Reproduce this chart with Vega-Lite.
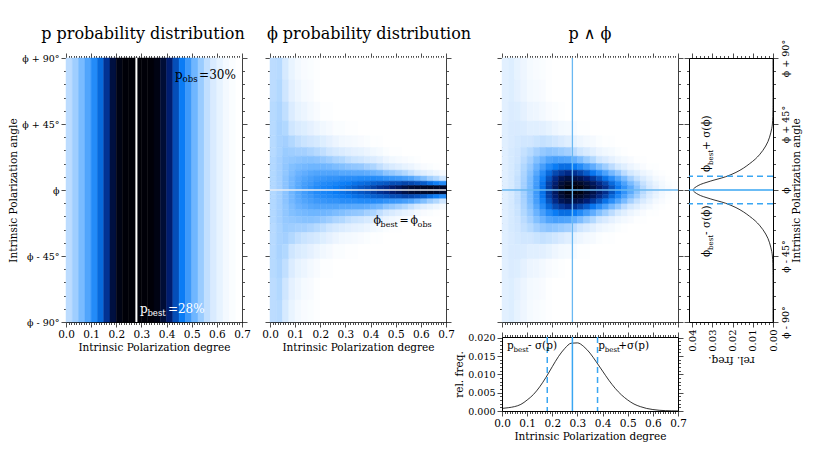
{
"$schema":"https://vega.github.io/schema/vega-lite/v6.json",
"padding":{"left":8,"top":25,"right":5,"bottom":5},
"background":"white",
"config":{
 "font":"DejaVu Serif",
 "view":{"stroke":null},
 "axis":{"labelFont":"DejaVu Serif","titleFont":"DejaVu Serif","labelFontSize":10.5,"titleFontSize":10.5,"titleFontWeight":"normal","labelColor":"black","titleColor":"black","domainColor":"black","domainWidth":1,"tickColor":"black","tickWidth":0.7,"grid":false,"labelOverlap":false,"labelFlush":false,"zindex":1,"labelPadding":2,"titlePadding":3},
 "title":{"font":"DejaVu Serif","fontSize":16,"fontWeight":"normal","color":"black","frame":"group","baseline":"alphabetic","offset":11},
 "text":{"font":"DejaVu Serif"}
},
"datasets":{
 "pd":[{"a":-90,"b":90,"c00":24,"c01":30,"c02":38,"c03":46,"c04":55,"c05":64,"c06":76,"c07":90,"c08":98,"c09":100,"c10":100,"c11":100,"c12":100,"c13":100,"c14":98,"c15":92,"c16":82,"c17":70,"c18":60,"c19":50,"c20":40,"c21":31,"c22":23,"c23":16,"c24":10,"c25":5,"c26":2,"c27":0}],
 "ph":[
  {"a":75,"b":90,"c00":24,"c01":25,"c02":17,"c03":9,"c04":5,"c05":3,"c06":2,"c07":1,"c08":0,"c09":0,"c10":0,"c11":0,"c12":0,"c13":0,"c14":0,"c15":0,"c16":0,"c17":0,"c18":0,"c19":0,"c20":0,"c21":0,"c22":0,"c23":0,"c24":0,"c25":0,"c26":0,"c27":0},
  {"a":60,"b":75,"c00":24,"c01":26,"c02":20,"c03":11,"c04":7,"c05":4,"c06":3,"c07":1,"c08":0,"c09":0,"c10":0,"c11":0,"c12":0,"c13":0,"c14":0,"c15":0,"c16":0,"c17":0,"c18":0,"c19":0,"c20":0,"c21":0,"c22":0,"c23":0,"c24":0,"c25":0,"c26":0,"c27":0},
  {"a":47,"b":60,"c00":25,"c01":27,"c02":23,"c03":15,"c04":10,"c05":8,"c06":5,"c07":3,"c08":1,"c09":1,"c10":0,"c11":0,"c12":0,"c13":0,"c14":0,"c15":0,"c16":0,"c17":0,"c18":0,"c19":0,"c20":0,"c21":0,"c22":0,"c23":0,"c24":0,"c25":0,"c26":0,"c27":0},
  {"a":37,"b":47,"c00":25,"c01":28,"c02":26,"c03":20,"c04":16,"c05":14,"c06":11,"c07":8,"c08":6,"c09":4,"c10":2,"c11":2,"c12":1,"c13":1,"c14":0,"c15":0,"c16":0,"c17":0,"c18":0,"c19":0,"c20":0,"c21":0,"c22":0,"c23":0,"c24":0,"c25":0,"c26":0,"c27":0},
  {"a":29,"b":37,"c00":25,"c01":28,"c02":29,"c03":26,"c04":23,"c05":21,"c06":19,"c07":17,"c08":14,"c09":11,"c10":8,"c11":6,"c12":5,"c13":4,"c14":3,"c15":2,"c16":1,"c17":1,"c18":0,"c19":0,"c20":0,"c21":0,"c22":0,"c23":0,"c24":0,"c25":0,"c26":0,"c27":0},
  {"a":23,"b":29,"c00":25,"c01":28,"c02":31,"c03":30,"c04":29,"c05":29,"c06":27,"c07":25,"c08":23,"c09":20,"c10":17,"c11":15,"c12":13,"c13":11,"c14":10,"c15":8,"c16":6,"c17":4,"c18":2,"c19":1,"c20":1,"c21":0,"c22":0,"c23":0,"c24":0,"c25":0,"c26":0,"c27":0},
  {"a":18,"b":23,"c00":26,"c01":29,"c02":32,"c03":33,"c04":34,"c05":35,"c06":35,"c07":34,"c08":32,"c09":30,"c10":27,"c11":26,"c12":23,"c13":21,"c14":20,"c15":17,"c16":15,"c17":12,"c18":8,"c19":6,"c20":4,"c21":3,"c22":2,"c23":1,"c24":0,"c25":0,"c26":0,"c27":0},
  {"a":13.5,"b":18,"c00":26,"c01":29,"c02":33,"c03":36,"c04":38,"c05":39,"c06":40,"c07":40,"c08":40,"c09":39,"c10":37,"c11":36,"c12":34,"c13":33,"c14":32,"c15":29,"c16":27,"c17":23,"c18":19,"c19":16,"c20":13,"c21":10,"c22":8,"c23":5,"c24":3,"c25":2,"c26":1,"c27":0},
  {"a":9.5,"b":13.5,"c00":26,"c01":29,"c02":33,"c03":37,"c04":41,"c05":43,"c06":45,"c07":46,"c08":46,"c09":46,"c10":46,"c11":45,"c12":45,"c13":44,"c14":44,"c15":43,"c16":41,"c17":39,"c18":34,"c19":32,"c20":29,"c21":26,"c22":22,"c23":17,"c24":13,"c25":10,"c26":7,"c27":4},
  {"a":6,"b":9.5,"c00":26,"c01":29,"c02":34,"c03":39,"c04":43,"c05":46,"c06":48,"c07":50,"c08":51,"c09":52,"c10":52,"c11":54,"c12":54,"c13":54,"c14":55,"c15":55,"c16":55,"c17":54,"c18":52,"c19":51,"c20":50,"c21":48,"c22":46,"c23":41,"c24":36,"c25":30,"c26":26,"c27":20},
  {"a":3,"b":6,"c00":26,"c01":29,"c02":34,"c03":39,"c04":44,"c05":48,"c06":50,"c07":53,"c08":55,"c09":56,"c10":57,"c11":59,"c12":60,"c13":62,"c14":63,"c15":64,"c16":66,"c17":67,"c18":68,"c19":70,"c20":70,"c21":72,"c22":71,"c23":69,"c24":67,"c25":63,"c26":59,"c27":55},
  {"a":0,"b":3,"c00":26,"c01":29,"c02":34,"c03":40,"c04":45,"c05":49,"c06":52,"c07":55,"c08":57,"c09":58,"c10":60,"c11":62,"c12":64,"c13":66,"c14":68,"c15":70,"c16":73,"c17":76,"c18":78,"c19":82,"c20":85,"c21":89,"c22":92,"c23":93,"c24":94,"c25":95,"c26":94,"c27":93},
  {"a":-3,"b":0,"c00":26,"c01":29,"c02":34,"c03":40,"c04":45,"c05":49,"c06":52,"c07":55,"c08":57,"c09":58,"c10":60,"c11":62,"c12":64,"c13":66,"c14":68,"c15":70,"c16":73,"c17":76,"c18":78,"c19":82,"c20":85,"c21":89,"c22":92,"c23":93,"c24":94,"c25":95,"c26":94,"c27":93},
  {"a":-6,"b":-3,"c00":26,"c01":29,"c02":34,"c03":39,"c04":44,"c05":48,"c06":50,"c07":53,"c08":55,"c09":56,"c10":57,"c11":59,"c12":60,"c13":62,"c14":63,"c15":64,"c16":66,"c17":67,"c18":68,"c19":70,"c20":70,"c21":72,"c22":71,"c23":69,"c24":67,"c25":63,"c26":59,"c27":55},
  {"a":-9.5,"b":-6,"c00":26,"c01":29,"c02":34,"c03":39,"c04":43,"c05":46,"c06":48,"c07":50,"c08":51,"c09":52,"c10":52,"c11":54,"c12":54,"c13":54,"c14":55,"c15":55,"c16":55,"c17":54,"c18":52,"c19":51,"c20":50,"c21":48,"c22":46,"c23":41,"c24":36,"c25":30,"c26":26,"c27":20},
  {"a":-13.5,"b":-9.5,"c00":26,"c01":29,"c02":33,"c03":37,"c04":41,"c05":43,"c06":45,"c07":46,"c08":46,"c09":46,"c10":46,"c11":45,"c12":45,"c13":44,"c14":44,"c15":43,"c16":41,"c17":39,"c18":34,"c19":32,"c20":29,"c21":26,"c22":22,"c23":17,"c24":13,"c25":10,"c26":7,"c27":4},
  {"a":-18,"b":-13.5,"c00":26,"c01":29,"c02":33,"c03":36,"c04":38,"c05":39,"c06":40,"c07":40,"c08":40,"c09":39,"c10":37,"c11":36,"c12":34,"c13":33,"c14":32,"c15":29,"c16":27,"c17":23,"c18":19,"c19":16,"c20":13,"c21":10,"c22":8,"c23":5,"c24":3,"c25":2,"c26":1,"c27":0},
  {"a":-23,"b":-18,"c00":26,"c01":29,"c02":32,"c03":33,"c04":34,"c05":35,"c06":35,"c07":34,"c08":32,"c09":30,"c10":27,"c11":26,"c12":23,"c13":21,"c14":20,"c15":17,"c16":15,"c17":12,"c18":8,"c19":6,"c20":4,"c21":3,"c22":2,"c23":1,"c24":0,"c25":0,"c26":0,"c27":0},
  {"a":-29,"b":-23,"c00":25,"c01":28,"c02":31,"c03":30,"c04":29,"c05":29,"c06":27,"c07":25,"c08":23,"c09":20,"c10":17,"c11":15,"c12":13,"c13":11,"c14":10,"c15":8,"c16":6,"c17":4,"c18":2,"c19":1,"c20":1,"c21":0,"c22":0,"c23":0,"c24":0,"c25":0,"c26":0,"c27":0},
  {"a":-37,"b":-29,"c00":25,"c01":28,"c02":29,"c03":26,"c04":23,"c05":21,"c06":19,"c07":17,"c08":14,"c09":11,"c10":8,"c11":6,"c12":5,"c13":4,"c14":3,"c15":2,"c16":1,"c17":1,"c18":0,"c19":0,"c20":0,"c21":0,"c22":0,"c23":0,"c24":0,"c25":0,"c26":0,"c27":0},
  {"a":-47,"b":-37,"c00":25,"c01":28,"c02":26,"c03":20,"c04":16,"c05":14,"c06":11,"c07":8,"c08":6,"c09":4,"c10":2,"c11":2,"c12":1,"c13":1,"c14":0,"c15":0,"c16":0,"c17":0,"c18":0,"c19":0,"c20":0,"c21":0,"c22":0,"c23":0,"c24":0,"c25":0,"c26":0,"c27":0},
  {"a":-60,"b":-47,"c00":25,"c01":27,"c02":23,"c03":15,"c04":10,"c05":8,"c06":5,"c07":3,"c08":1,"c09":1,"c10":0,"c11":0,"c12":0,"c13":0,"c14":0,"c15":0,"c16":0,"c17":0,"c18":0,"c19":0,"c20":0,"c21":0,"c22":0,"c23":0,"c24":0,"c25":0,"c26":0,"c27":0},
  {"a":-75,"b":-60,"c00":24,"c01":26,"c02":20,"c03":11,"c04":7,"c05":4,"c06":3,"c07":1,"c08":0,"c09":0,"c10":0,"c11":0,"c12":0,"c13":0,"c14":0,"c15":0,"c16":0,"c17":0,"c18":0,"c19":0,"c20":0,"c21":0,"c22":0,"c23":0,"c24":0,"c25":0,"c26":0,"c27":0},
  {"a":-90,"b":-75,"c00":24,"c01":25,"c02":17,"c03":9,"c04":5,"c05":3,"c06":2,"c07":1,"c08":0,"c09":0,"c10":0,"c11":0,"c12":0,"c13":0,"c14":0,"c15":0,"c16":0,"c17":0,"c18":0,"c19":0,"c20":0,"c21":0,"c22":0,"c23":0,"c24":0,"c25":0,"c26":0,"c27":0}
 ],
 "jt":[
  {"a":75,"b":90,"c00":12,"c01":14,"c02":10,"c03":7,"c04":4,"c05":3,"c06":2,"c07":1,"c08":0,"c09":0,"c10":0,"c11":0,"c12":0,"c13":0,"c14":0,"c15":0,"c16":0,"c17":0,"c18":0,"c19":0,"c20":0,"c21":0,"c22":0,"c23":0,"c24":0,"c25":0,"c26":0,"c27":0},
  {"a":60,"b":75,"c00":12,"c01":14,"c02":11,"c03":8,"c04":5,"c05":4,"c06":3,"c07":1,"c08":0,"c09":0,"c10":0,"c11":0,"c12":0,"c13":0,"c14":0,"c15":0,"c16":0,"c17":0,"c18":0,"c19":0,"c20":0,"c21":0,"c22":0,"c23":0,"c24":0,"c25":0,"c26":0,"c27":0},
  {"a":47,"b":60,"c00":12,"c01":15,"c02":14,"c03":11,"c04":8,"c05":7,"c06":5,"c07":3,"c08":2,"c09":1,"c10":0,"c11":0,"c12":0,"c13":0,"c14":0,"c15":0,"c16":0,"c17":0,"c18":0,"c19":0,"c20":0,"c21":0,"c22":0,"c23":0,"c24":0,"c25":0,"c26":0,"c27":0},
  {"a":37,"b":47,"c00":13,"c01":16,"c02":16,"c03":15,"c04":13,"c05":13,"c06":12,"c07":10,"c08":7,"c09":5,"c10":4,"c11":3,"c12":1,"c13":1,"c14":0,"c15":0,"c16":0,"c17":0,"c18":0,"c19":0,"c20":0,"c21":0,"c22":0,"c23":0,"c24":0,"c25":0,"c26":0,"c27":0},
  {"a":29,"b":37,"c00":13,"c01":16,"c02":18,"c03":19,"c04":19,"c05":21,"c06":22,"c07":21,"c08":19,"c09":16,"c10":13,"c11":10,"c12":7,"c13":5,"c14":4,"c15":2,"c16":1,"c17":1,"c18":0,"c19":0,"c20":0,"c21":0,"c22":0,"c23":0,"c24":0,"c25":0,"c26":0,"c27":0},
  {"a":23,"b":29,"c00":13,"c01":17,"c02":19,"c03":22,"c04":25,"c05":29,"c06":32,"c07":34,"c08":33,"c09":31,"c10":29,"c11":24,"c12":20,"c13":16,"c14":12,"c15":8,"c16":6,"c17":4,"c18":2,"c19":1,"c20":0,"c21":0,"c22":0,"c23":0,"c24":0,"c25":0,"c26":0,"c27":0},
  {"a":18,"b":23,"c00":13,"c01":17,"c02":20,"c03":24,"c04":29,"c05":36,"c06":41,"c07":46,"c08":48,"c09":47,"c10":46,"c11":42,"c12":37,"c13":31,"c14":26,"c15":20,"c16":16,"c17":11,"c18":7,"c19":5,"c20":3,"c21":1,"c22":1,"c23":0,"c24":0,"c25":0,"c26":0,"c27":0},
  {"a":13.5,"b":18,"c00":13,"c01":17,"c02":21,"c03":26,"c04":32,"c05":41,"c06":48,"c07":55,"c08":60,"c09":63,"c10":63,"c11":60,"c12":55,"c13":49,"c14":43,"c15":36,"c16":30,"c17":24,"c18":18,"c19":13,"c20":8,"c21":5,"c22":3,"c23":1,"c24":1,"c25":0,"c26":0,"c27":0},
  {"a":9.5,"b":13.5,"c00":13,"c01":17,"c02":21,"c03":27,"c04":35,"c05":45,"c06":54,"c07":64,"c08":71,"c09":75,"c10":78,"c11":76,"c12":72,"c13":67,"c14":61,"c15":54,"c16":47,"c17":39,"c18":32,"c19":24,"c20":18,"c21":13,"c22":8,"c23":5,"c24":2,"c25":1,"c26":0,"c27":0},
  {"a":6,"b":9.5,"c00":13,"c01":17,"c02":22,"c03":28,"c04":37,"c05":48,"c06":58,"c07":69,"c08":78,"c09":86,"c10":89,"c11":88,"c12":86,"c13":81,"c14":75,"c15":69,"c16":62,"c17":54,"c18":46,"c19":38,"c20":29,"c21":22,"c22":16,"c23":10,"c24":5,"c25":3,"c26":1,"c27":0},
  {"a":3,"b":6,"c00":13,"c01":17,"c02":22,"c03":29,"c04":38,"c05":49,"c06":61,"c07":73,"c08":82,"c09":91,"c10":95,"c11":96,"c12":94,"c13":90,"c14":85,"c15":78,"c16":72,"c17":64,"c18":56,"c19":47,"c20":38,"c21":30,"c22":22,"c23":15,"c24":9,"c25":5,"c26":2,"c27":1},
  {"a":0,"b":3,"c00":13,"c01":17,"c02":22,"c03":29,"c04":38,"c05":50,"c06":62,"c07":74,"c08":85,"c09":94,"c10":99,"c11":100,"c12":99,"c13":94,"c14":89,"c15":83,"c16":77,"c17":69,"c18":61,"c19":52,"c20":44,"c21":34,"c22":25,"c23":18,"c24":11,"c25":6,"c26":3,"c27":1},
  {"a":-3,"b":0,"c00":13,"c01":17,"c02":22,"c03":29,"c04":38,"c05":50,"c06":62,"c07":74,"c08":85,"c09":94,"c10":99,"c11":100,"c12":99,"c13":94,"c14":89,"c15":83,"c16":77,"c17":69,"c18":61,"c19":52,"c20":44,"c21":34,"c22":25,"c23":18,"c24":11,"c25":6,"c26":3,"c27":1},
  {"a":-6,"b":-3,"c00":13,"c01":17,"c02":22,"c03":29,"c04":38,"c05":49,"c06":61,"c07":73,"c08":82,"c09":91,"c10":95,"c11":96,"c12":94,"c13":90,"c14":85,"c15":78,"c16":72,"c17":64,"c18":56,"c19":47,"c20":38,"c21":30,"c22":22,"c23":15,"c24":9,"c25":5,"c26":2,"c27":1},
  {"a":-9.5,"b":-6,"c00":13,"c01":17,"c02":22,"c03":28,"c04":37,"c05":48,"c06":58,"c07":69,"c08":78,"c09":86,"c10":89,"c11":88,"c12":86,"c13":81,"c14":75,"c15":69,"c16":62,"c17":54,"c18":46,"c19":38,"c20":29,"c21":22,"c22":16,"c23":10,"c24":5,"c25":3,"c26":1,"c27":0},
  {"a":-13.5,"b":-9.5,"c00":13,"c01":17,"c02":21,"c03":27,"c04":35,"c05":45,"c06":54,"c07":64,"c08":71,"c09":75,"c10":78,"c11":76,"c12":72,"c13":67,"c14":61,"c15":54,"c16":47,"c17":39,"c18":32,"c19":24,"c20":18,"c21":13,"c22":8,"c23":5,"c24":2,"c25":1,"c26":0,"c27":0},
  {"a":-18,"b":-13.5,"c00":13,"c01":17,"c02":21,"c03":26,"c04":32,"c05":41,"c06":48,"c07":55,"c08":60,"c09":63,"c10":63,"c11":60,"c12":55,"c13":49,"c14":43,"c15":36,"c16":30,"c17":24,"c18":18,"c19":13,"c20":8,"c21":5,"c22":3,"c23":1,"c24":1,"c25":0,"c26":0,"c27":0},
  {"a":-23,"b":-18,"c00":13,"c01":17,"c02":20,"c03":24,"c04":29,"c05":36,"c06":41,"c07":46,"c08":48,"c09":47,"c10":46,"c11":42,"c12":37,"c13":31,"c14":26,"c15":20,"c16":16,"c17":11,"c18":7,"c19":5,"c20":3,"c21":1,"c22":1,"c23":0,"c24":0,"c25":0,"c26":0,"c27":0},
  {"a":-29,"b":-23,"c00":13,"c01":17,"c02":19,"c03":22,"c04":25,"c05":29,"c06":32,"c07":34,"c08":33,"c09":31,"c10":29,"c11":24,"c12":20,"c13":16,"c14":12,"c15":8,"c16":6,"c17":4,"c18":2,"c19":1,"c20":0,"c21":0,"c22":0,"c23":0,"c24":0,"c25":0,"c26":0,"c27":0},
  {"a":-37,"b":-29,"c00":13,"c01":16,"c02":18,"c03":19,"c04":19,"c05":21,"c06":22,"c07":21,"c08":19,"c09":16,"c10":13,"c11":10,"c12":7,"c13":5,"c14":4,"c15":2,"c16":1,"c17":1,"c18":0,"c19":0,"c20":0,"c21":0,"c22":0,"c23":0,"c24":0,"c25":0,"c26":0,"c27":0},
  {"a":-47,"b":-37,"c00":13,"c01":16,"c02":16,"c03":15,"c04":13,"c05":13,"c06":12,"c07":10,"c08":7,"c09":5,"c10":4,"c11":3,"c12":1,"c13":1,"c14":0,"c15":0,"c16":0,"c17":0,"c18":0,"c19":0,"c20":0,"c21":0,"c22":0,"c23":0,"c24":0,"c25":0,"c26":0,"c27":0},
  {"a":-60,"b":-47,"c00":12,"c01":15,"c02":14,"c03":11,"c04":8,"c05":7,"c06":5,"c07":3,"c08":2,"c09":1,"c10":0,"c11":0,"c12":0,"c13":0,"c14":0,"c15":0,"c16":0,"c17":0,"c18":0,"c19":0,"c20":0,"c21":0,"c22":0,"c23":0,"c24":0,"c25":0,"c26":0,"c27":0},
  {"a":-75,"b":-60,"c00":12,"c01":14,"c02":11,"c03":8,"c04":5,"c05":4,"c06":3,"c07":1,"c08":0,"c09":0,"c10":0,"c11":0,"c12":0,"c13":0,"c14":0,"c15":0,"c16":0,"c17":0,"c18":0,"c19":0,"c20":0,"c21":0,"c22":0,"c23":0,"c24":0,"c25":0,"c26":0,"c27":0},
  {"a":-90,"b":-75,"c00":12,"c01":14,"c02":10,"c03":7,"c04":4,"c05":3,"c06":2,"c07":1,"c08":0,"c09":0,"c10":0,"c11":0,"c12":0,"c13":0,"c14":0,"c15":0,"c16":0,"c17":0,"c18":0,"c19":0,"c20":0,"c21":0,"c22":0,"c23":0,"c24":0,"c25":0,"c26":0,"c27":0}
 ],
 "pm":[{"p":0,"f":0.0007},{"p":0.025,"f":0.0009},{"p":0.05,"f":0.0012},{"p":0.075,"f":0.0018},{"p":0.1,"f":0.003},{"p":0.125,"f":0.0045},{"p":0.15,"f":0.0066},{"p":0.175,"f":0.0092},{"p":0.2,"f":0.0121},{"p":0.225,"f":0.0149},{"p":0.25,"f":0.0171},{"p":0.275,"f":0.0185},{"p":0.3,"f":0.0186},{"p":0.325,"f":0.0176},{"p":0.35,"f":0.0158},{"p":0.375,"f":0.0134},{"p":0.4,"f":0.0109},{"p":0.425,"f":0.0084},{"p":0.45,"f":0.0062},{"p":0.475,"f":0.0044},{"p":0.5,"f":0.003},{"p":0.525,"f":0.0019},{"p":0.55,"f":0.0012},{"p":0.575,"f":0.0007},{"p":0.6,"f":0.0004},{"p":0.625,"f":0.0002},{"p":0.65,"f":0.0001},{"p":0.675,"f":0.00005},{"p":0.7,"f":0.00002}],
 "am":[{"a":-90,"f":0},{"a":-75,"f":0},{"a":-60,"f":0},{"a":-55,"f":0.00003},{"a":-50,"f":0.0001},{"a":-45,"f":0.0003},{"a":-42,"f":0.0006},{"a":-39,"f":0.0011},{"a":-36,"f":0.0017},{"a":-33,"f":0.0025},{"a":-30,"f":0.0036},{"a":-27,"f":0.005},{"a":-24,"f":0.0067},{"a":-21,"f":0.0088},{"a":-18,"f":0.0115},{"a":-15,"f":0.0145},{"a":-12,"f":0.0183},{"a":-9,"f":0.0235},{"a":-6,"f":0.031},{"a":-3,"f":0.037},{"a":0,"f":0.0395},{"a":3,"f":0.037},{"a":6,"f":0.031},{"a":9,"f":0.0235},{"a":12,"f":0.0183},{"a":15,"f":0.0145},{"a":18,"f":0.0115},{"a":21,"f":0.0088},{"a":24,"f":0.0067},{"a":27,"f":0.005},{"a":30,"f":0.0036},{"a":33,"f":0.0025},{"a":36,"f":0.0017},{"a":39,"f":0.0011},{"a":42,"f":0.0006},{"a":45,"f":0.0003},{"a":50,"f":0.0001},{"a":55,"f":0.00003},{"a":60,"f":0},{"a":75,"f":0},{"a":90,"f":0}]
},
"concat":[
  {"width":176,"height":264,
   "title":{"text":"p probability distribution","dx":-11},
   "layer":[
    {"data":{"name":"pd"},"transform":[{"fold":["c00","c01","c02","c03","c04","c05","c06","c07","c08","c09","c10","c11","c12","c13","c14","c15","c16","c17","c18","c19","c20","c21","c22","c23","c24","c25","c26","c27"],"as":["col","val"]}],
     "mark":{"type":"rect","strokeWidth":0.5},
     "encoding":{
      "x":{"field":"col","type":"ordinal","axis":null,"scale":{"paddingInner":0,"paddingOuter":0}},
      "y":{"field":"a","type":"quantitative","scale":{"domain":[-90,90],"nice":false},"axis":{"orient":"left","values":[-90,-81,-72,-63,-54,-45,-36,-27,-18,-9,0,9,18,27,36,45,54,63,72,81,90],"labelExpr":"datum.value==90 ? 'ϕ + 90°' : datum.value==45 ? 'ϕ + 45°' : datum.value==0 ? 'ϕ' : datum.value==-45 ? 'ϕ - 45°' : datum.value==-90 ? 'ϕ - 90°' : ''","labelFontSize":9.5,"tickSize":{"condition":{"test":"datum.value%45==0","value":5},"value":2.5},"title":"Intrinsic Polarization angle"}},
      "y2":{"field":"b"},
      "color":{"field":"val","type":"quantitative","scale":{"domain":[0,20,40,60,80,100],"range":["#ffffff","#cfe6ff","#6fb6ff","#0a7cf5","#00207a","#000008"],"interpolate":"rgb"},"legend":null},
      "stroke":{"field":"val","type":"quantitative","scale":{"domain":[0,20,40,60,80,100],"range":["#ffffff","#cfe6ff","#6fb6ff","#0a7cf5","#00207a","#000008"],"interpolate":"rgb"},"legend":null}}},
    {"data":{"values":[{}]},
     "layer":[
      {"mark":{"type":"rule","color":"white","strokeWidth":2},"encoding":{"x":{"datum":0.28,"type":"quantitative","scale":{"domain":[0,0.7],"nice":false},"axis":{"orient":"bottom","tickCount":70,"labelExpr":"abs(datum.value*10-round(datum.value*10))<0.001 ? format(datum.value,'.1f') : ''","tickSize":{"condition":{"test":"abs(datum.value*10-round(datum.value*10))<0.001","value":5},"value":2.5},"title":"Intrinsic Polarization degree"}}}},
      {"mark":{"type":"point","opacity":0},"encoding":{"x":{"datum":0.28,"type":"quantitative","axis":{"orient":"top","tickCount":70,"labels":false,"title":null,"tickSize":{"condition":{"test":"abs(datum.value*10-round(datum.value*10))<0.001","value":5},"value":2.5}}},"y":{"datum":0,"type":"quantitative","axis":{"orient":"right","values":[-90,-81,-72,-63,-54,-45,-36,-27,-18,-9,0,9,18,27,36,45,54,63,72,81,90],"labels":false,"title":null,"tickSize":{"condition":{"test":"datum.value%45==0","value":5},"value":2.5}}}}},
      {"mark":{"type":"text","text":"p","fontSize":12,"align":"left","baseline":"alphabetic","color":"black"},"encoding":{"x":{"datum":0.434,"type":"quantitative","axis":null},"y":{"datum":75.7,"type":"quantitative","axis":null}}},
      {"mark":{"type":"text","text":"obs","fontSize":8.5,"align":"left","baseline":"alphabetic","color":"black","dx":7.5,"dy":3},"encoding":{"x":{"datum":0.434,"type":"quantitative","axis":null},"y":{"datum":75.7,"type":"quantitative","axis":null}}},
      {"mark":{"type":"text","text":"=30%","fontSize":12,"align":"left","baseline":"alphabetic","color":"black","dx":24},"encoding":{"x":{"datum":0.434,"type":"quantitative","axis":null},"y":{"datum":75.7,"type":"quantitative","axis":null}}},
      {"mark":{"type":"text","text":"p","fontSize":12,"align":"left","baseline":"alphabetic","color":"white"},"encoding":{"x":{"datum":0.294,"type":"quantitative","axis":null},"y":{"datum":-83.8,"type":"quantitative","axis":null}}},
      {"mark":{"type":"text","text":"best","fontSize":8.5,"align":"left","baseline":"alphabetic","color":"white","dx":7.5,"dy":3},"encoding":{"x":{"datum":0.294,"type":"quantitative","axis":null},"y":{"datum":-83.8,"type":"quantitative","axis":null}}},
      {"mark":{"type":"text","text":"=28%","fontSize":12,"align":"left","baseline":"alphabetic","color":"white","dx":28},"encoding":{"x":{"datum":0.294,"type":"quantitative","axis":null},"y":{"datum":-83.8,"type":"quantitative","axis":null}}}
     ],
     "resolve":{"axis":{"x":"independent","y":"independent"}}}
   ],
   "resolve":{"scale":{"x":"independent"},"axis":{"x":"independent","y":"independent"}}},
  {"width":6,"height":1,"data":{"values":[{}]},"mark":{"type":"point","opacity":0},"encoding":{}},
  {"width":176,"height":264,
   "title":{"text":"ϕ probability distribution","dx":11},
   "layer":[
    {"data":{"name":"ph"},"transform":[{"fold":["c00","c01","c02","c03","c04","c05","c06","c07","c08","c09","c10","c11","c12","c13","c14","c15","c16","c17","c18","c19","c20","c21","c22","c23","c24","c25","c26","c27"],"as":["col","val"]}],
     "mark":{"type":"rect","strokeWidth":0.5},
     "encoding":{
      "x":{"field":"col","type":"ordinal","axis":null,"scale":{"paddingInner":0,"paddingOuter":0}},
      "y":{"field":"a","type":"quantitative","scale":{"domain":[-90,90],"nice":false},"axis":{"orient":"left","values":[-90,-81,-72,-63,-54,-45,-36,-27,-18,-9,0,9,18,27,36,45,54,63,72,81,90],"labels":false,"title":null,"tickSize":{"condition":{"test":"datum.value%45==0","value":5},"value":2.5}}},
      "y2":{"field":"b"},
      "color":{"field":"val","type":"quantitative","scale":{"domain":[0,20,40,60,80,100],"range":["#ffffff","#cfe6ff","#6fb6ff","#0a7cf5","#00207a","#000008"],"interpolate":"rgb"},"legend":null},
      "stroke":{"field":"val","type":"quantitative","scale":{"domain":[0,20,40,60,80,100],"range":["#ffffff","#cfe6ff","#6fb6ff","#0a7cf5","#00207a","#000008"],"interpolate":"rgb"},"legend":null}}},
    {"data":{"values":[{}]},
     "layer":[
      {"mark":{"type":"point","opacity":0},"encoding":{"x":{"datum":0,"type":"quantitative","scale":{"domain":[0,0.7],"nice":false},"axis":{"orient":"bottom","tickCount":70,"labelExpr":"abs(datum.value*10-round(datum.value*10))<0.001 ? format(datum.value,'.1f') : ''","tickSize":{"condition":{"test":"abs(datum.value*10-round(datum.value*10))<0.001","value":5},"value":2.5},"title":"Intrinsic Polarization degree"}},"y":{"datum":0,"type":"quantitative","axis":{"orient":"right","values":[-90,-81,-72,-63,-54,-45,-36,-27,-18,-9,0,9,18,27,36,45,54,63,72,81,90],"labels":false,"title":null,"tickSize":{"condition":{"test":"datum.value%45==0","value":5},"value":2.5}}}}},
      {"mark":{"type":"point","opacity":0},"encoding":{"x":{"datum":0,"type":"quantitative","axis":{"orient":"top","tickCount":70,"labels":false,"title":null,"tickSize":{"condition":{"test":"abs(datum.value*10-round(datum.value*10))<0.001","value":5},"value":2.5}}},"y":{"datum":0,"type":"quantitative","axis":null}}},
      {"mark":{"type":"rule","color":"#e8eef5","strokeWidth":1.5},"encoding":{"y":{"datum":0,"type":"quantitative","axis":null}}},
      {"mark":{"type":"text","text":"ϕ","fontSize":11,"align":"left","baseline":"alphabetic","color":"black"},"encoding":{"x":{"datum":0.412,"type":"quantitative","axis":null},"y":{"datum":-23.2,"type":"quantitative","axis":null}}},
      {"mark":{"type":"text","text":"best","fontSize":8,"align":"left","baseline":"alphabetic","color":"black","dx":7,"dy":3},"encoding":{"x":{"datum":0.412,"type":"quantitative","axis":null},"y":{"datum":-23.2,"type":"quantitative","axis":null}}},
      {"mark":{"type":"text","text":"=","fontSize":11,"align":"left","baseline":"alphabetic","color":"black","dx":26},"encoding":{"x":{"datum":0.412,"type":"quantitative","axis":null},"y":{"datum":-23.2,"type":"quantitative","axis":null}}},
      {"mark":{"type":"text","text":"ϕ","fontSize":11,"align":"left","baseline":"alphabetic","color":"black","dx":37},"encoding":{"x":{"datum":0.412,"type":"quantitative","axis":null},"y":{"datum":-23.2,"type":"quantitative","axis":null}}},
      {"mark":{"type":"text","text":"obs","fontSize":8,"align":"left","baseline":"alphabetic","color":"black","dx":44,"dy":3},"encoding":{"x":{"datum":0.412,"type":"quantitative","axis":null},"y":{"datum":-23.2,"type":"quantitative","axis":null}}}
     ],
     "resolve":{"axis":{"x":"independent","y":"independent"}}}
   ],
   "resolve":{"scale":{"x":"independent"},"axis":{"x":"independent","y":"independent"}}},
  {"width":34,"height":1,"data":{"values":[{}]},"mark":{"type":"point","opacity":0},"encoding":{}},
  {"width":176,"height":264,
   "title":{"text":"p ∧ ϕ"},
   "layer":[
    {"data":{"name":"jt"},"transform":[{"fold":["c00","c01","c02","c03","c04","c05","c06","c07","c08","c09","c10","c11","c12","c13","c14","c15","c16","c17","c18","c19","c20","c21","c22","c23","c24","c25","c26","c27"],"as":["col","val"]}],
     "mark":{"type":"rect","strokeWidth":0.5},
     "encoding":{
      "x":{"field":"col","type":"ordinal","axis":null,"scale":{"paddingInner":0,"paddingOuter":0}},
      "y":{"field":"a","type":"quantitative","scale":{"domain":[-90,90],"nice":false},"axis":{"orient":"left","values":[-90,-81,-72,-63,-54,-45,-36,-27,-18,-9,0,9,18,27,36,45,54,63,72,81,90],"labels":false,"title":null,"tickSize":{"condition":{"test":"datum.value%45==0","value":5},"value":2.5}}},
      "y2":{"field":"b"},
      "color":{"field":"val","type":"quantitative","scale":{"domain":[0,20,40,60,80,100],"range":["#ffffff","#cfe6ff","#6fb6ff","#0a7cf5","#00207a","#000008"],"interpolate":"rgb"},"legend":null},
      "stroke":{"field":"val","type":"quantitative","scale":{"domain":[0,20,40,60,80,100],"range":["#ffffff","#cfe6ff","#6fb6ff","#0a7cf5","#00207a","#000008"],"interpolate":"rgb"},"legend":null}}},
    {"data":{"values":[{}]},
     "layer":[
      {"mark":{"type":"rule","color":"#6ab8f2","strokeWidth":1.3},"encoding":{"x":{"datum":0.28,"type":"quantitative","scale":{"domain":[0,0.7],"nice":false},"axis":{"orient":"bottom","tickCount":70,"labels":false,"title":null,"tickSize":{"condition":{"test":"abs(datum.value*10-round(datum.value*10))<0.001","value":5},"value":2.5}}}}},
      {"mark":{"type":"rule","color":"#6ab8f2","strokeWidth":1.3},"encoding":{"y":{"datum":0,"type":"quantitative","axis":{"orient":"right","values":[-90,-81,-72,-63,-54,-45,-36,-27,-18,-9,0,9,18,27,36,45,54,63,72,81,90],"labels":false,"title":null,"tickSize":{"condition":{"test":"datum.value%45==0","value":5},"value":2.5}}}}},
      {"mark":{"type":"point","opacity":0},"encoding":{"x":{"datum":0.28,"type":"quantitative","axis":{"orient":"top","tickCount":70,"labels":false,"title":null,"tickSize":{"condition":{"test":"abs(datum.value*10-round(datum.value*10))<0.001","value":5},"value":2.5}}},"y":{"datum":0,"type":"quantitative","axis":null}}}
     ],
     "resolve":{"axis":{"x":"independent","y":"independent"}}}
   ],
   "resolve":{"scale":{"x":"independent"},"axis":{"x":"independent","y":"independent"}}},
  {"width":84,"height":264,
   "data":{"values":[{}]},
   "layer":[
    {"data":{"name":"am"},"mark":{"type":"line","color":"black","strokeWidth":0.8,"interpolate":"catmull-rom"},
     "encoding":{
      "x":{"field":"f","type":"quantitative","scale":{"domain":[0,0.0415],"reverse":true,"nice":false},"axis":{"orient":"bottom","tickCount":20,"labelExpr":"abs(datum.value*100-round(datum.value*100))<0.001 ? format(datum.value,'.2f') : ''","labelAngle":270,"labelFontSize":10,"tickSize":{"condition":{"test":"abs(datum.value*100-round(datum.value*100))<0.001","value":5},"value":2.5},"title":"rel. freq.","titleAngle":180,"titleBaseline":"bottom"}},
      "y":{"field":"a","type":"quantitative","scale":{"domain":[-90,90],"nice":false},"axis":{"orient":"right","values":[-90,-81,-72,-63,-54,-45,-36,-27,-18,-9,0,9,18,27,36,45,54,63,72,81,90],"labelExpr":"datum.value==90 ? 'ϕ + 90°' : datum.value==45 ? 'ϕ + 45°' : datum.value==0 ? 'ϕ' : datum.value==-45 ? 'ϕ - 45°' : datum.value==-90 ? 'ϕ - 90°' : ''","labelAngle":270,"labelAlign":"center","labelBaseline":"top","labelFontSize":9.5,"tickSize":{"condition":{"test":"datum.value%45==0","value":5},"value":2.5},"title":"Intrinsic Polarization angle","titleAngle":270,"titlePadding":12}},
      "order":{"field":"a","type":"quantitative"}}},
    {"mark":{"type":"rule","color":"#3aa6f2","strokeWidth":1.5},"encoding":{"y":{"datum":0,"type":"quantitative","axis":null}}},
    {"mark":{"type":"rule","color":"#3aa6f2","strokeWidth":1.5,"strokeDash":[6,4]},"encoding":{"y":{"datum":9.3,"type":"quantitative","axis":null}}},
    {"mark":{"type":"rule","color":"#3aa6f2","strokeWidth":1.5,"strokeDash":[6,4]},"encoding":{"y":{"datum":-9.3,"type":"quantitative","axis":null}}},
    {"mark":{"type":"point","opacity":0},"encoding":{"x":{"datum":0.02,"type":"quantitative","axis":{"orient":"top","tickCount":20,"labels":false,"title":null,"tickSize":{"condition":{"test":"abs(datum.value*100-round(datum.value*100))<0.001","value":5},"value":2.5}}},"y":{"datum":0,"type":"quantitative","axis":{"orient":"left","values":[-90,-81,-72,-63,-54,-45,-36,-27,-18,-9,0,9,18,27,36,45,54,63,72,81,90],"labels":false,"title":null,"tickSize":{"condition":{"test":"datum.value%45==0","value":5},"value":2.5}}}}},
    {"mark":{"type":"text","text":"ϕ","fontSize":10.5,"align":"left","baseline":"alphabetic","angle":270},"encoding":{"x":{"datum":0.031,"type":"quantitative","axis":null},"y":{"datum":12.3,"type":"quantitative","axis":null}}},
    {"mark":{"type":"text","text":"best","fontSize":7,"align":"left","baseline":"alphabetic","angle":270,"dx":7,"dy":3},"encoding":{"x":{"datum":0.031,"type":"quantitative","axis":null},"y":{"datum":12.3,"type":"quantitative","axis":null}}},
    {"mark":{"type":"text","text":"+ σ(ϕ)","fontSize":10.5,"align":"left","baseline":"alphabetic","angle":270,"dx":22},"encoding":{"x":{"datum":0.031,"type":"quantitative","axis":null},"y":{"datum":12.3,"type":"quantitative","axis":null}}},
    {"mark":{"type":"text","text":"ϕ","fontSize":10.5,"align":"left","baseline":"alphabetic","angle":270},"encoding":{"x":{"datum":0.031,"type":"quantitative","axis":null},"y":{"datum":-45.6,"type":"quantitative","axis":null}}},
    {"mark":{"type":"text","text":"best","fontSize":7,"align":"left","baseline":"alphabetic","angle":270,"dx":7,"dy":3},"encoding":{"x":{"datum":0.031,"type":"quantitative","axis":null},"y":{"datum":-45.6,"type":"quantitative","axis":null}}},
    {"mark":{"type":"text","text":"- σ(ϕ)","fontSize":10.5,"align":"left","baseline":"alphabetic","angle":270,"dx":22},"encoding":{"x":{"datum":0.031,"type":"quantitative","axis":null},"y":{"datum":-45.6,"type":"quantitative","axis":null}}}
   ],
   "resolve":{"axis":{"x":"independent","y":"independent"}}},
  {"width":1,"height":1,"data":{"values":[{}]},"mark":{"type":"point","opacity":0},"encoding":{}},
  {"width":1,"height":1,"data":{"values":[{}]},"mark":{"type":"point","opacity":0},"encoding":{}},
  {"width":1,"height":1,"data":{"values":[{}]},"mark":{"type":"point","opacity":0},"encoding":{}},
  {"width":1,"height":1,"data":{"values":[{}]},"mark":{"type":"point","opacity":0},"encoding":{}},
  {"width":176,"height":74,
   "data":{"values":[{}]},
   "layer":[
    {"data":{"name":"pm"},"mark":{"type":"line","color":"black","strokeWidth":0.8,"interpolate":"monotone"},
     "encoding":{
      "x":{"field":"p","type":"quantitative","scale":{"domain":[0,0.7],"nice":false},"axis":{"orient":"bottom","tickCount":70,"labelExpr":"abs(datum.value*10-round(datum.value*10))<0.001 ? format(datum.value,'.1f') : ''","tickSize":{"condition":{"test":"abs(datum.value*10-round(datum.value*10))<0.001","value":5},"value":2.5},"title":"Intrinsic Polarization degree"}},
      "y":{"field":"f","type":"quantitative","scale":{"domain":[0,0.0202],"nice":false},"axis":{"orient":"left","tickCount":20,"labelExpr":"abs(datum.value*200-round(datum.value*200))<0.001 ? format(datum.value,'.3f') : ''","labelFontSize":9.5,"tickSize":{"condition":{"test":"abs(datum.value*200-round(datum.value*200))<0.001","value":5},"value":2.5},"title":"rel. freq."}}}},
    {"mark":{"type":"rule","color":"#3aa6f2","strokeWidth":1.5},"encoding":{"x":{"datum":0.28,"type":"quantitative","axis":null}}},
    {"mark":{"type":"rule","color":"#3aa6f2","strokeWidth":1.5,"strokeDash":[6,4]},"encoding":{"x":{"datum":0.18,"type":"quantitative","axis":null}}},
    {"mark":{"type":"rule","color":"#3aa6f2","strokeWidth":1.5,"strokeDash":[6,4]},"encoding":{"x":{"datum":0.38,"type":"quantitative","axis":null}}},
    {"mark":{"type":"point","opacity":0},"encoding":{"x":{"datum":0.28,"type":"quantitative","axis":{"orient":"top","tickCount":70,"labels":false,"title":null,"tickSize":{"condition":{"test":"abs(datum.value*10-round(datum.value*10))<0.001","value":5},"value":2.5}}},"y":{"datum":0.01,"type":"quantitative","axis":{"orient":"right","tickCount":20,"labels":false,"title":null,"tickSize":{"condition":{"test":"abs(datum.value*200-round(datum.value*200))<0.001","value":5},"value":2.5}}}}},
    {"mark":{"type":"text","text":"p","fontSize":10.5,"align":"left","baseline":"alphabetic"},"encoding":{"x":{"datum":0.02,"type":"quantitative","axis":null},"y":{"datum":0.0169,"type":"quantitative","axis":null}}},
    {"mark":{"type":"text","text":"best","fontSize":7,"align":"left","baseline":"alphabetic","dx":6.5,"dy":3},"encoding":{"x":{"datum":0.02,"type":"quantitative","axis":null},"y":{"datum":0.0169,"type":"quantitative","axis":null}}},
    {"mark":{"type":"text","text":"- σ(p)","fontSize":10.5,"align":"left","baseline":"alphabetic","dx":21},"encoding":{"x":{"datum":0.02,"type":"quantitative","axis":null},"y":{"datum":0.0169,"type":"quantitative","axis":null}}},
    {"mark":{"type":"text","text":"p","fontSize":10.5,"align":"left","baseline":"alphabetic"},"encoding":{"x":{"datum":0.383,"type":"quantitative","axis":null},"y":{"datum":0.0169,"type":"quantitative","axis":null}}},
    {"mark":{"type":"text","text":"best","fontSize":7,"align":"left","baseline":"alphabetic","dx":6.5,"dy":3},"encoding":{"x":{"datum":0.383,"type":"quantitative","axis":null},"y":{"datum":0.0169,"type":"quantitative","axis":null}}},
    {"mark":{"type":"text","text":"+σ(p)","fontSize":10.5,"align":"left","baseline":"alphabetic","dx":20},"encoding":{"x":{"datum":0.383,"type":"quantitative","axis":null},"y":{"datum":0.0169,"type":"quantitative","axis":null}}}
   ],
   "resolve":{"axis":{"x":"independent","y":"independent"}}},
  {"width":1,"height":1,"data":{"values":[{}]},"mark":{"type":"point","opacity":0},"encoding":{}}
],
"columns":6,
"spacing":{"row":15,"column":11},
"bounds":"flush"
}
